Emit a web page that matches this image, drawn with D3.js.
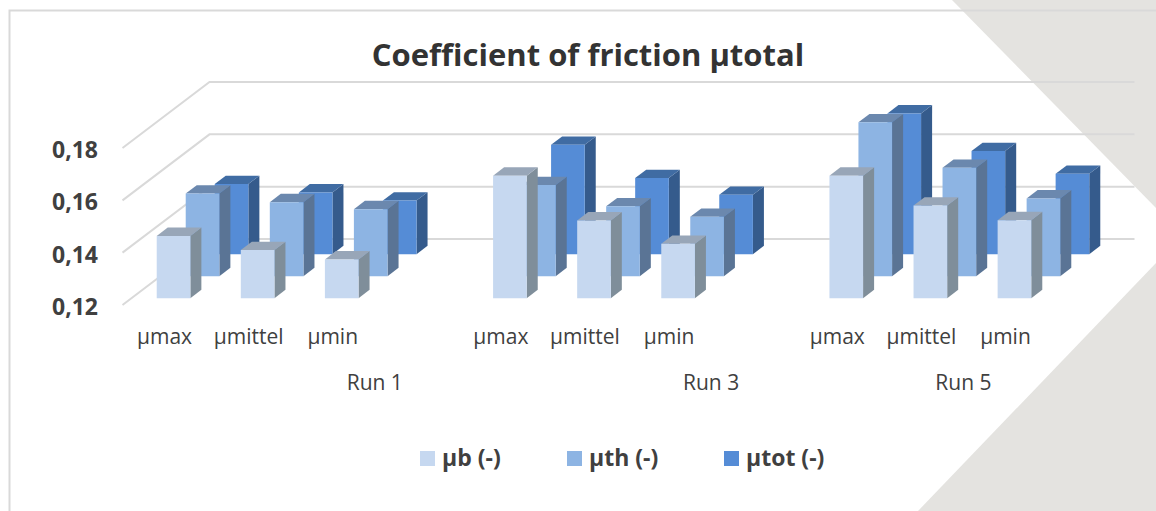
<!DOCTYPE html>
<html>
<head>
<meta charset="utf-8">
<script src="https://d3js.org/d3.v7.min.js"></script>
<style>
  html, body { margin: 0; padding: 0; background: #fff; }
  svg { display: block; }
  text { font-family: "Open Sans", sans-serif; fill: #404040; }
  .tick line, .domain { display: none; }
</style>
</head>
<body>
<svg width="1156" height="511"></svg>
<script>
var title = "Coefficient of friction µtotal";
var runs = ["Run 1", "Run 3", "Run 5"];
var measures = ["µmax", "µmittel", "µmin"];
var seriesNames = ["µb (-)", "µth (-)", "µtot (-)"];
var yTicks = [0.12, 0.14, 0.16, 0.18];

// run 1, run 3, run 5 : max, mittel, min
var muB = [0.1438, 0.1384, 0.1348, 0.1668, 0.1497, 0.1408, 0.1668, 0.1554, 0.1498];
var muTh = [0.1516, 0.1483, 0.1456, 0.1548, 0.1467, 0.1427, 0.1788, 0.1614, 0.1497];
var muTot = [0.1468, 0.1436, 0.1405, 0.1618, 0.1491, 0.1427, 0.1738, 0.1594, 0.1507];

var seriesValues = [muB, muTh, muTot];
var front = ["#c6d8f0", "#8db4e3", "#558cd6"];
var top_ = ["#98a6b8", "#6b88ae", "#406ca3"];
var side = ["#7f8e9a", "#5a7495", "#355b8c"];

var svg = d3.select("svg");

// background shapes
svg.append("polygon").attr("points", "952,0 1156,0 1156,208").attr("fill", "#e4e3e0");
svg.append("polygon").attr("points", "1156,263 1156,511 918,511").attr("fill", "#e4e3e0");

// chart frame
svg.append("path").attr("d", "M1156,10.5H9.5V511").attr("fill", "none")
  .attr("stroke", "#d9d9d9").attr("stroke-width", 2);

// 11 slots: three measures per run with one empty slot between the runs
var slots = d3.range(11);
var usedSlots = slots.filter(function(s){ return s % 4 != 3; });

var floorDx = 87, floorDy = 66;
var x = d3.scaleBand().domain(slots).range([122.5, 1047.5])
  .paddingInner(0.6).paddingOuter(0.3);
var y = d3.scaleLinear().domain([0.12, 0.18]).range([305, 148]);
var depth = d3.scaleBand().domain(seriesNames).range([0, floorDy])
  .paddingInner(0.62).paddingOuter(0.31);
var kx = floorDx / floorDy;

// gridlines: floor/side wall diagonal plus back wall
var grid = svg.append("g").attr("fill", "none").attr("stroke", "#d9d9d9").attr("stroke-width", 2);
grid.selectAll("path").data(yTicks).enter().append("path")
  .attr("d", function(d){
    return "M" + x.range()[0] + "," + y(d)
      + "L" + (x.range()[0] + floorDx) + "," + (y(d) - floorDy)
      + "H" + (x.range()[1] + floorDx);
  });

// back series first so the front ones cover them
var bars = svg.append("g");
d3.range(seriesNames.length).reverse().forEach(function(si){
  var name = seriesNames[si];
  var d0 = depth(name), dd = depth.bandwidth();
  var g = bars.append("g");
  seriesValues[si].forEach(function(v, i){
    var x0 = x(usedSlots[i]) + d0 * kx;
    var x1 = x0 + x.bandwidth();
    var yb = y(0.12) - d0;
    var yt = y(v) - d0;
    var ox = dd * kx, oy = dd;
    g.append("path").attr("fill", side[si])
      .attr("d", d3.line()([[x1, yb], [x1 + ox, yb - oy], [x1 + ox, yt - oy], [x1, yt]]) + "Z");
    g.append("path").attr("fill", top_[si])
      .attr("d", d3.line()([[x0, yt], [x0 + ox, yt - oy], [x1 + ox, yt - oy], [x1, yt]]) + "Z");
    g.append("path").attr("fill", front[si])
      .attr("d", d3.line()([[x0, yb], [x0, yt], [x1, yt], [x1, yb]]) + "Z");
  });
});

// value axis
var yAxis = d3.axisLeft(y).tickValues(yTicks).tickSize(0).tickPadding(0)
  .tickFormat(function(d){ return d.toFixed(2).replace(".", ","); });
svg.append("g").attr("transform", "translate(98,2)").call(yAxis)
  .selectAll("text").attr("font-family", null).style("font-size", "23px").style("font-weight", "bold");

// measure labels
var xAxis = d3.axisBottom(x).tickValues(usedSlots).tickSize(0).tickPadding(0)
  .tickFormat(function(d){ return measures[usedSlots.indexOf(d) % 3]; });
svg.append("g").attr("transform", "translate(0,329)").call(xAxis)
  .selectAll("text").attr("font-family", null).style("font-size", "21px");

// run labels, as placed by the multi level axis of the original
var runCentres = [x(2) + x.step() * 0.5, x(6) + x.step() * 0.5, x(9) + x.step() * 0.5];
svg.append("g").selectAll("text").data(runs).enter().append("text")
  .attr("x", function(d, i){ return runCentres[i] + x.bandwidth() / 2; })
  .attr("y", 390).attr("text-anchor", "middle").style("font-size", "21px")
  .text(function(d){ return d; });

svg.append("text").attr("x", 588).attr("y", 66).attr("text-anchor", "middle")
  .style("font-size", "31px").style("font-weight", "bold").style("fill", "#333")
  .text(title);

// legend
var legendX = d3.scaleOrdinal().domain(seriesNames).range([420, 567, 724]);
var legend = svg.append("g").selectAll("g").data(seriesNames).enter().append("g")
  .attr("transform", function(d){ return "translate(" + legendX(d) + ",451)"; });
legend.append("rect").attr("width", 15).attr("height", 15)
  .attr("fill", function(d, i){ return front[i]; });
legend.append("text").attr("x", 22).attr("y", 15)
  .style("font-size", "23px").style("font-weight", "bold")
  .text(function(d){ return d; });
</script>
</body>
</html>
